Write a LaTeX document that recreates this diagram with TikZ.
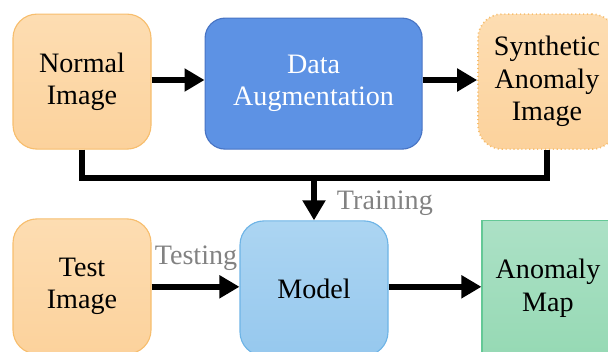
\documentclass[tikz,border=0pt]{standalone}
\usepackage{fontspec}
\setmainfont{Liberation Serif}
\usetikzlibrary{arrows.meta,positioning,calc}
\definecolor{orangeHaut}{RGB}{253,221,178}
\definecolor{orangeBas}{RGB}{252,210,156}
\definecolor{orangeBord}{RGB}{247,190,110}
\definecolor{bleuFonce}{RGB}{93,146,228}
\definecolor{bleuFonceBord}{RGB}{72,116,196}
\definecolor{bleuHaut}{RGB}{172,213,242}
\definecolor{bleuBas}{RGB}{150,200,238}
\definecolor{bleuBord}{RGB}{110,180,230}
\definecolor{vertHaut}{RGB}{172,225,198}
\definecolor{vertBas}{RGB}{150,217,180}
\definecolor{vertBord}{RGB}{100,200,150}
\definecolor{grisLegende}{RGB}{130,130,130}

\tikzset{
  bloc/.style={align=center, line width=0.8pt, inner sep=0pt,
               minimum width=3.45cm, minimum height=3.375cm},
  blocOrange/.style={bloc, rounded corners=0.6cm, draw=orangeBord,
               top color=orangeHaut, bottom color=orangeBas},
  fleche/.style={line width=4.5pt, -{Triangle[length=0.5cm,width=0.55cm]}},
  trait/.style={line width=4pt},
  legende/.style={text=grisLegende}
}

\begin{document}
\begin{tikzpicture}[font=\fontsize{20}{23}\selectfont]
\useasboundingbox (0,0) rectangle (15.2,-8.8);

% rangee du haut
\node[blocOrange] (normal) at (2.05,-2.04) {Normal\\Image};
\node[bloc, minimum width=5.425cm, minimum height=3.275cm, rounded corners=0.5cm,
      draw=bleuFonceBord, fill=bleuFonce, text=white] (augment) at (7.84,-2.09)
      {Data\\Augmentation};
\node[blocOrange, draw=orangeBord, dotted, line width=1.2pt] (synth) at (13.675,-2.04)
      {Synthetic\\Anomaly\\Image};

% rangee du bas
\node[blocOrange] (test) at (2.05,-7.16) {Test\\Image};
\node[bloc, minimum width=3.7cm, rounded corners=0.6cm, draw=bleuBord,
      top color=bleuHaut, bottom color=bleuBas] (model) at (7.85,-7.21) {Model};
\node[bloc, minimum width=3.3cm, draw=vertBord,
      top color=vertHaut, bottom color=vertBas] (carte) at (13.7,-7.21) {Anomaly\\Map};

% fleches
\draw[fleche] (normal.east |- 0,-2.0) -- (augment.west |- 0,-2.0);
\draw[fleche] (augment.east |- 0,-2.0) -- (synth.west |- 0,-2.0);

\coordinate (jonction) at (0,-4.45);
\draw[trait] (normal.south) -- (normal.south |- jonction) -| (synth.south);
\draw[fleche] (model.north |- jonction) -- (model.north);
\node[legende, anchor=west] (entrainement) at (8.3,-5.07) {Training};

\draw[fleche] (test.east |- 0,-7.17) -- (model.west |- 0,-7.17);
\node[legende] (essai) at (4.9,-6.45) {Testing};
\draw[fleche] (model.east |- 0,-7.17) -- (carte.west |- 0,-7.17);

\end{tikzpicture}
\end{document}
